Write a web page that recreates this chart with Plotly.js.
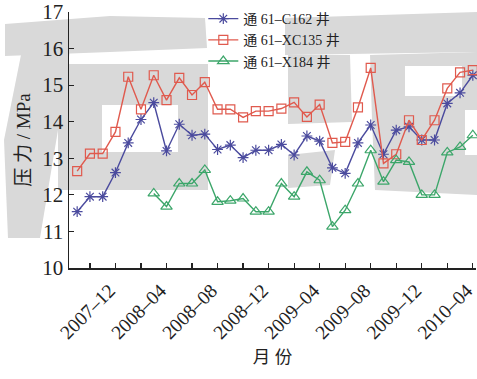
<!DOCTYPE html>
<html>
<head>
<meta charset="utf-8">
<script src="https://cdn.plot.ly/plotly-3.0.1.min.js"></script>
<style>html,body{margin:0;padding:0;background:#fff;}#chart{width:477px;height:379px;}</style>
</head>
<body>
<div id="chart"></div>
<script>
const months = ["2007-09","2007-10","2007-11","2007-12","2008-01","2008-02","2008-03","2008-04","2008-05","2008-06","2008-07","2008-08","2008-09","2008-10","2008-11","2008-12","2009-01","2009-02","2009-03","2009-04","2009-05","2009-06","2009-07","2009-08","2009-09","2009-10","2009-11","2009-12","2010-01","2010-02","2010-03","2010-04"];
const c162 = [11.54,11.95,11.95,12.61,13.42,14.06,14.52,13.2,13.93,13.63,13.66,13.24,13.36,13.02,13.22,13.22,13.38,13.09,13.61,13.47,12.74,12.59,13.42,13.91,13.11,13.77,13.86,13.5,13.5,14.5,14.79,15.27];
const xc135 = [12.65,13.13,13.13,13.72,15.23,14.34,15.27,14.59,15.2,14.73,15.08,14.34,14.34,14.12,14.29,14.29,14.36,14.53,14.13,14.47,13.42,13.45,14.39,15.47,12.86,13.11,14.04,13.5,14.04,14.91,15.35,15.41];
const x184 = [null,null,null,null,null,null,12.04,11.68,12.31,12.31,12.68,11.81,11.84,11.9,11.54,11.54,12.31,11.95,12.63,12.4,11.13,11.58,12.31,13.22,12.36,12.95,12.9,12.0,12.0,13.16,13.31,13.63];
const seriesNames = ["通 61–C162 井","通 61–XC135 井","通 61–X184 井"];
const tickMonths = months.filter((m,i)=> i%2===1);
const tickLabels = tickMonths.map((m,i)=> i%2===1 ? m.replace("-","–") : "");
const yTicks = [10,11,12,13,14,15,16,17];

// faint background watermark (decorative, page pixel outlines)
const W = {l: 69, t: 12, w: 407, h: 256};
const watermark = [
  [[5,24],[110,16],[205,18],[207,48],[110,52],[5,56]],
  [[22,50],[70,50],[58,130],[40,238],[8,238],[4,140]],
  [[58,64],[208,64],[208,190],[58,190]],
  [[285,18],[477,12],[477,52],[285,55]],
  [[288,55],[350,55],[352,122],[288,124]],
  [[288,155],[335,150],[330,185],[288,188]],
  [[370,55],[477,52],[477,195],[375,190],[372,120]]
];
const holes = [
  [[102,105],[102,152],[178,152],[178,105]],
  [[405,66],[405,96],[462,96],[462,66]],
  [[465,110],[465,155],[477,155],[477,110]]
];
const toPath = (pts) => pts.map((p,i)=> (i?'L':'M') + ((p[0]-W.l)/W.w).toFixed(4) + ',' + ((W.t+W.h-p[1])/W.h).toFixed(4)).join(' ') + ' Z';
const shapes = [];
watermark.forEach((pts, k) => {
  let path = toPath(pts);
  if (k === 2) path += ' ' + toPath(holes[0]);
  if (k === 6) path += ' ' + toPath(holes[1]) + ' ' + toPath(holes[2]);
  shapes.push({type: 'path', xref: 'paper', yref: 'paper', path: path, fillcolor: '#d9d9d9', line: {width: 0}, layer: 'below'});
});

const serif = "Liberation Serif, 'Noto Sans CJK SC', serif";
const mk = (y, name, color, symbol, size) => ({
  x: months, y: y, name: name, type: 'scatter', mode: 'lines+markers',
  line: {color: color, width: 1.4},
  marker: {symbol: symbol, size: size, color: color, line: {color: color, width: 1.2}},
  cliponaxis: false, connectgaps: false
});
const data = [
  mk(c162, seriesNames[0], '#4b4b9e', 'asterisk-open', 9),
  mk(xc135, seriesNames[1], '#e05a4e', 'square-open', 9),
  mk(x184, seriesNames[2], '#3ca66a', 'triangle-up-open', 10)
];
const layout = {
  width: 477, height: 379,
  margin: {l: 69, r: 1, t: 12, b: 111},
  paper_bgcolor: '#fff', plot_bgcolor: 'rgba(0,0,0,0)',
  font: {family: serif, color: '#222', size: 15},
  showlegend: true,
  shapes: shapes,
  legend: {x: 0.33, y: 1.035, xanchor: 'left', yanchor: 'top', bgcolor: 'rgba(0,0,0,0)',
           font: {family: serif, size: 14, color: '#222'}, tracegroupgap: 0, itemwidth: 30},
  xaxis: {
    type: 'category', categoryorder: 'array', categoryarray: months,
    range: [-0.64, 31.25],
    tickmode: 'array', tickvals: tickMonths, ticktext: tickLabels, tickangle: -45,
    ticklabelshift: -6, ticklabelstandoff: 2,
    ticks: 'inside', ticklen: 5, tickwidth: 1.2, tickcolor: '#222',
    showline: true, linecolor: '#222', linewidth: 1.5, showgrid: false, zeroline: false,
    tickfont: {family: serif, size: 19.5, color: '#222'},
    title: {text: '月 份', font: {family: serif, size: 17.5, color: '#222'}, standoff: 8}
  },
  yaxis: {
    range: [10, 17], tickmode: 'array', tickvals: yTicks, ticktext: yTicks.map(String),
    ticks: 'inside', ticklen: 5, tickwidth: 1.2, tickcolor: '#222',
    showline: true, linecolor: '#222', linewidth: 1.5, showgrid: false, zeroline: false,
    tickfont: {family: serif, size: 21, color: '#222'},
    title: {text: '压 力 / MPa', font: {family: serif, size: 19, color: '#222'}, standoff: 6}
  }
};
Plotly.newPlot('chart', data, layout, {displayModeBar: false, staticPlot: true});
</script>
</body>
</html>
